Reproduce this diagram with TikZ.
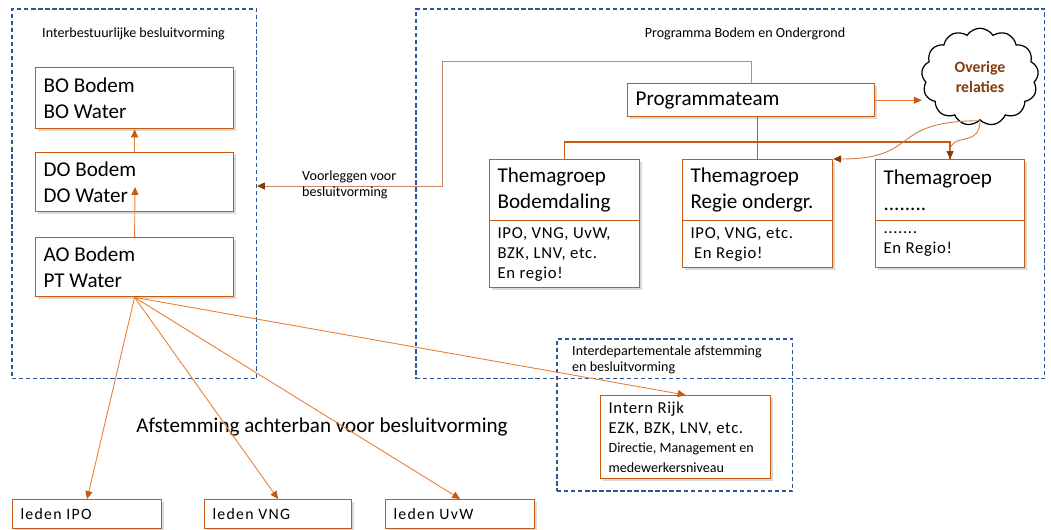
\documentclass[tikz,border=0pt]{standalone}
\usepackage{fontspec}
\setmainfont{Carlito}
\newfontfamily\widefont[LetterSpace=8]{Carlito}
\newfontfamily\spacedfont[LetterSpace=4]{Carlito}
\usetikzlibrary{arrows.meta,shapes.symbols,shadows}
\definecolor{boxorange}{RGB}{197,90,17}
\definecolor{lineorange}{RGB}{237,125,49}
\definecolor{fbbrown}{RGB}{200,135,105}
\definecolor{dashblue}{RGB}{47,85,151}
\definecolor{cloudbrown}{RGB}{132,60,12}
\newcommand{\bigfont}{\fontsize{12}{14.7}\selectfont}
\newcommand{\midfont}{\spacedfont\fontsize{9.5}{11.4}\selectfont}
\newcommand{\ledenfont}{\widefont\fontsize{9}{11}\selectfont}
\newcommand{\notefont}{\rmfamily\fontsize{8}{10.8}\selectfont}
\newcommand{\smallfont}{\fontsize{8}{9.1}\selectfont}
\newcommand{\barlevel}{142}
\newcommand{\feedbacklevel}{61}

\begin{document}
\begin{tikzpicture}[x=0.02cm,y=-0.02cm]
\tikzstyle{orangebox}=[draw=boxorange,line width=0.8pt,fill=white,anchor=north west,align=flush left,inner xsep=4.5pt,inner ysep=0pt,drop shadow={shadow xshift=1.2pt,shadow yshift=-1.2pt,opacity=0.3,fill=black!50}]
\tikzstyle{dashbox}=[draw=dashblue,line width=0.6pt,dash pattern=on 2.5pt off 1.5pt,anchor=north west,inner sep=0pt,outer sep=0pt]
\tikzstyle{fanarrow}=[draw=lineorange,line width=0.5pt,-{Triangle[length=4.5pt,width=4pt,color=boxorange]}]
\tikzstyle{treeline}=[draw=boxorange,line width=0.8pt]
\tikzstyle{curvearrow}=[draw=boxorange!80,line width=0.5pt,-{Triangle[length=4.5pt,width=4pt,color=cloudbrown]}]

\useasboundingbox (0,0) rectangle (1051,530);

% groups
\node[dashbox,minimum width=4.9cm,minimum height=7.4cm] (leftgroup) at (12,9) {};
\node[dashbox,minimum width=12.58cm,minimum height=7.4cm] (rightgroup) at (416,9) {};
\node[dashbox,minimum width=4.72cm,minimum height=3.04cm] (intergroup) at (557,339) {};

\node[font=\smallfont,anchor=west] (leftlabel) at (36,34) {Interbestuurlijke besluitvorming};
\node[font=\smallfont] (rightlabel) at (745,34) {Programma Bodem en Ondergrond};
\node[font=\smallfont,anchor=west,align=left] (interlabel) at (566,360) {Interdepartementale afstemming\\en besluitvorming};

% interbestuurlijk
\node[orangebox,text width=3.64cm,minimum height=1.22cm,font=\bigfont] (BO) at (35,67) {BO Bodem\\BO Water};
\node[orangebox,text width=3.64cm,minimum height=1.18cm,font=\bigfont] (DO) at (35,152) {DO Bodem\\DO Water};
\node[orangebox,text width=3.64cm,minimum height=1.18cm,font=\bigfont] (AO) at (35,237) {AO Bodem\\PT Water};
\coordinate (DOtip) at (135,187);

\draw[fanarrow] (DO.north) -- (BO.south);
\draw[fanarrow] (AO.north) -- (DOtip);

% programma
\node[orangebox,text width=4.62cm,minimum height=0.66cm,font=\bigfont] (Prog) at (627,83) {Programmateam};
\node[cloud,cloud puffs=13,cloud puff arc=115,cloud ignores aspect,draw,line width=0.7pt,fill=white,minimum width=2.34cm,minimum height=1.95cm,inner sep=0pt,align=center,text=cloudbrown,font=\bfseries\fontsize{9}{11.4}\selectfont] (cloud) at (980,77) {Overige\\relaties};

\node[orangebox,text width=2.68cm,minimum height=1.22cm,font=\bigfont] (T1top) at (489,159) {Themagroep\\Bodemdaling};
\node[orangebox,text width=2.68cm,minimum height=1.34cm,font=\midfont] (T1bot) at (489,220) {IPO, VNG, UvW,\\BZK, LNV, etc.\\En regio!};
\node[orangebox,text width=2.68cm,minimum height=1.22cm,font=\bigfont] (T2top) at (682,159) {Themagroep\\Regie ondergr.};
\node[orangebox,text width=2.68cm,minimum height=0.94cm,font=\midfont] (T2bot) at (682,220) {IPO, VNG, etc.\\\hspace*{2pt}En Regio!};
\node[orangebox,text width=2.66cm,minimum height=1.22cm,font=\bigfont] (T3top) at (875,159) {Themagroep\\........};
\node[orangebox,text width=2.66cm,minimum height=0.94cm,font=\midfont] (T3bot) at (875,220) {.......\\En Regio!};

\coordinate (bar) at (0,\barlevel);
\coordinate (fbtop) at (442,\feedbacklevel);
\coordinate (fbturn) at (442,186);

\draw[treeline] (T2top.north) -- (T2top.north |- Prog.south);
\draw[treeline] (T1top.north) |- (T3top.north |- bar) -- (T3top.north);

\draw[draw=fbbrown,line width=0.5pt,-{Triangle[length=4.5pt,width=4pt,color=cloudbrown]}] (Prog.north) |- (fbtop) -- (fbturn) -- (fbturn -| leftgroup.east);
\node[font=\smallfont,anchor=west,align=left] (fblabel) at (296,185) {Voorleggen voor\\besluitvorming};

\draw[fanarrow] (Prog.east) -- (Prog.east -| cloud.west);
\draw[curvearrow] (cloud.south) .. controls (887,121) and (922,159) .. (T2top.north east);
\draw[curvearrow] (cloud.south) .. controls (980,148) and (950,132) .. (T3top.north);

% achterban
\node[orangebox,text width=2.66cm,minimum height=0.58cm,font=\ledenfont] (IPO) at (12,499) {leden IPO};
\node[orangebox,text width=2.62cm,minimum height=0.58cm,font=\ledenfont] (VNG) at (204,499) {leden VNG};
\node[orangebox,text width=2.66cm,minimum height=0.58cm,font=\ledenfont] (UvW) at (385,499) {leden UvW};
\node[orangebox,text width=3.08cm,minimum height=1.66cm,font=\midfont] (Rijk) at (600,395) {Intern Rijk\\EZK, BZK, LNV, etc.\\\notefont Directie, Management en\\medewerkersniveau};

\node[font=\fontsize{12}{14}\selectfont] (achterban) at (322,427) {Afstemming achterban voor besluitvorming};

\draw[fanarrow] (AO.south) -- (IPO.north);
\draw[fanarrow] (AO.south) -- (VNG.north);
\draw[fanarrow] (AO.south) -- (UvW.north);
\draw[fanarrow] (AO.south) -- (Rijk.north);

\end{tikzpicture}
\end{document}
